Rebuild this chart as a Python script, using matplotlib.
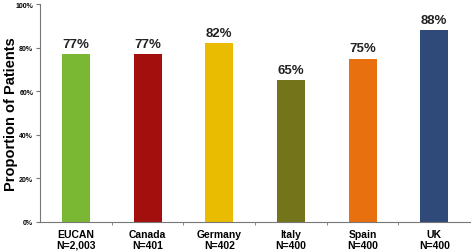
import matplotlib.pyplot as plt
import numpy as np

plt.rcParams['font.family'] = ['Liberation Sans', 'DejaVu Sans']

countries = ['EUCAN', 'Canada', 'Germany', 'Italy', 'Spain', 'UK']
sizes = ['N=2,003', 'N=401', 'N=402', 'N=400', 'N=400', 'N=400']
values = [77, 77, 82, 65, 75, 88]
colors = ['#7ab833', '#a30f0c', '#e9bc02', '#74751b', '#e8700f', '#2f4a78']

fig = plt.figure(figsize=(4.72, 2.53), dpi=100)
ax = fig.add_axes([0.085, 0.119, 0.911, 0.861])

x = np.arange(len(countries))
bars = ax.bar(x, values, width=0.39, color=colors)

for xi, v in zip(x, values):
    ax.text(xi, v + 2, f'{v}%', ha='center', va='bottom',
            fontsize=9.5, fontweight='bold', color='#222222')

ax.set_xlim(-0.5, len(countries) - 0.5)
ax.set_ylim(0, 100)
ax.set_yticks(range(0, 101, 20))
ax.set_yticklabels([f'{t}%' for t in range(0, 101, 20)],
                   fontsize=5, fontweight='bold')
ax.set_xticks(x)
ax.set_xticklabels([f'{c}\n{n}' for c, n in zip(countries, sizes)],
                   fontsize=7.5, fontweight='bold', linespacing=1.1)
ax.set_xticks(x[:-1] + 0.5, minor=True)
ax.tick_params(axis='x', which='major', length=0, pad=5)
ax.tick_params(axis='x', which='minor', length=2, color='#777777')
ax.tick_params(axis='y', length=3, color='#777777', pad=2)

for side in ['top', 'right']:
    ax.spines[side].set_visible(False)
for side in ['left', 'bottom']:
    ax.spines[side].set_color('#777777')

ax.set_ylabel('Proportion of Patients', fontsize=10.5, fontweight='bold')
ax.yaxis.set_label_coords(-0.052, 0.5)

fig.savefig('out.png', dpi=100)
